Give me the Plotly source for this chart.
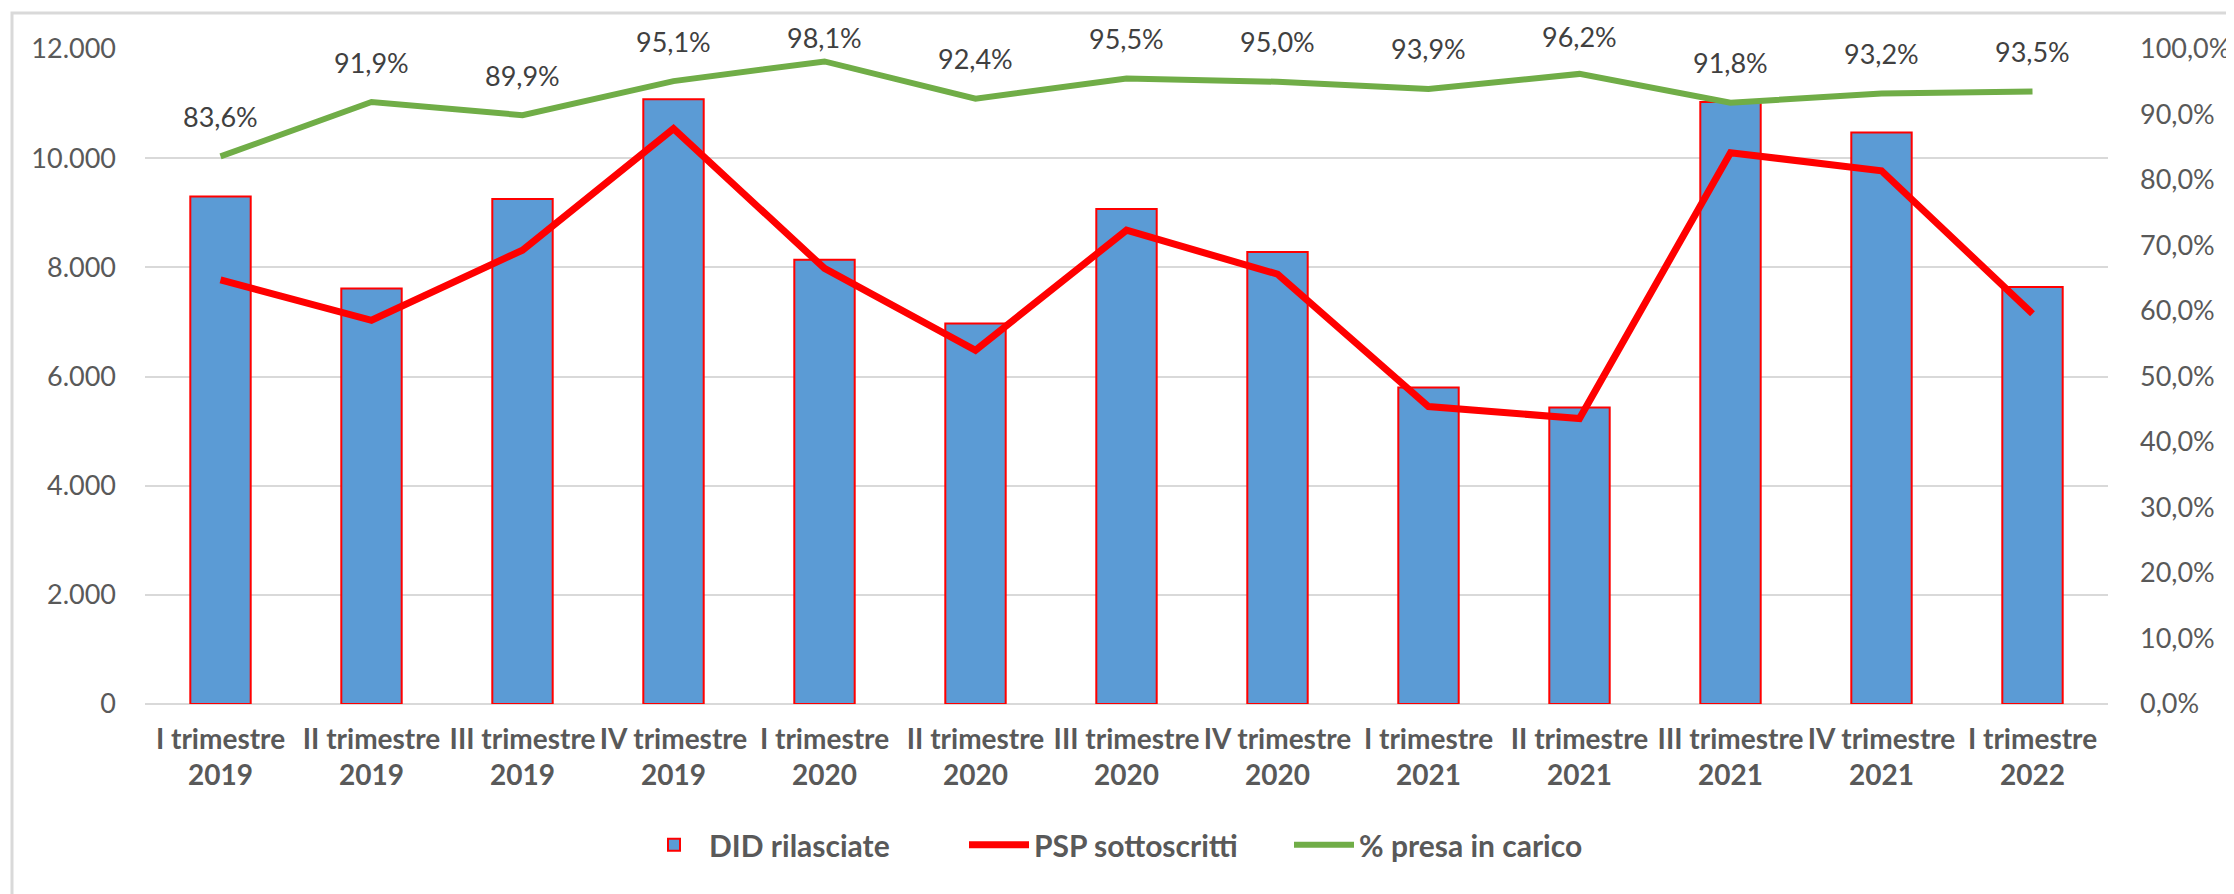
import plotly.graph_objects as go

categories = ["I trimestre<br>2019", "II trimestre<br>2019", "III trimestre<br>2019", "IV trimestre<br>2019",
              "I trimestre<br>2020", "II trimestre<br>2020", "III trimestre<br>2020", "IV trimestre<br>2020",
              "I trimestre<br>2021", "II trimestre<br>2021", "III trimestre<br>2021", "IV trimestre<br>2021",
              "I trimestre<br>2022"]
did_rilasciate = [9300, 7610, 9250, 11080, 8140, 6970, 9070, 8280, 5800, 5430, 11030, 10470, 7640]
psp_sottoscritti = [7770, 7030, 8315, 10540, 7980, 6480, 8680, 7875, 5450, 5230, 10100, 9770, 7150]
presa_in_carico = [0.836, 0.919, 0.899, 0.951, 0.981, 0.924, 0.955, 0.950, 0.939, 0.962, 0.918, 0.932, 0.935]

FONT = "Lato"
GRAY = "#595959"
PLOT_H = 655

fig = go.Figure()
fig.add_trace(go.Bar(
    x=categories, y=did_rilasciate, name="DID rilasciate",
    marker=dict(color="#5B9BD5", line=dict(color="#FF0000", width=2)),
    width=0.4,
))
fig.add_trace(go.Scatter(
    x=categories, y=psp_sottoscritti, name="PSP sottoscritti", mode="lines",
    line=dict(color="#FF0000", width=7),
))
fig.add_trace(go.Scatter(
    x=categories, y=presa_in_carico, name="% presa in carico", mode="lines",
    line=dict(color="#70AD47", width=6), yaxis="y2",
))

for c, v in zip(categories, presa_in_carico):
    # labels sit 40px above the point, but are kept inside the chart area near the top
    shift = min(40, 12 + (1 - v) * PLOT_H)
    fig.add_annotation(x=c, y=v, yref="y2", text=f"{v*100:.1f}%".replace(".", ","),
                       showarrow=False, yshift=shift,
                       font=dict(family=FONT, size=27, color="#404040"))

fig.update_layout(
    width=2234, height=894,
    margin=dict(l=137, r=134, t=41, b=198),
    paper_bgcolor="white", plot_bgcolor="white",
    separators=",.",
    font=dict(family=FONT, size=27, color=GRAY),
    bargap=0.6,
    showlegend=True,
    legend=dict(orientation="h", x=0.5, xanchor="center", y=-0.215, yanchor="middle",
                font=dict(family=FONT, size=30, color=GRAY, weight="bold"),
                itemwidth=60, tracegroupgap=0, entrywidth=250),
    xaxis=dict(
        showgrid=False, showline=False, ticks="",
        tickfont=dict(family=FONT, size=28, color=GRAY, weight="bold"),
        ticklabelstandoff=16,
    ),
    yaxis=dict(
        range=[0, 12000], dtick=2000, tickformat=",d",
        showgrid=True, gridcolor="#D9D9D9", gridwidth=2,
        zeroline=True, zerolinecolor="#D9D9D9", zerolinewidth=2,
        showline=False, ticks="", ticklabelstandoff=28,
        tickfont=dict(family=FONT, size=27, color=GRAY),
    ),
    yaxis2=dict(
        range=[0, 1], dtick=0.1, tickformat=".1%", overlaying="y", side="right",
        showgrid=False, zeroline=False, showline=False, ticks="", ticklabelstandoff=31,
        tickfont=dict(family=FONT, size=27, color=GRAY),
    ),
    shapes=[dict(type="rect", xref="paper", yref="paper",
                 x0=-133/1963, x1=1.2, y0=-0.5, y1=1 + 36/655,
                 line=dict(color="#D9D9D9", width=3), fillcolor="rgba(0,0,0,0)", layer="below")],
)

fig.write_html("out.html")
